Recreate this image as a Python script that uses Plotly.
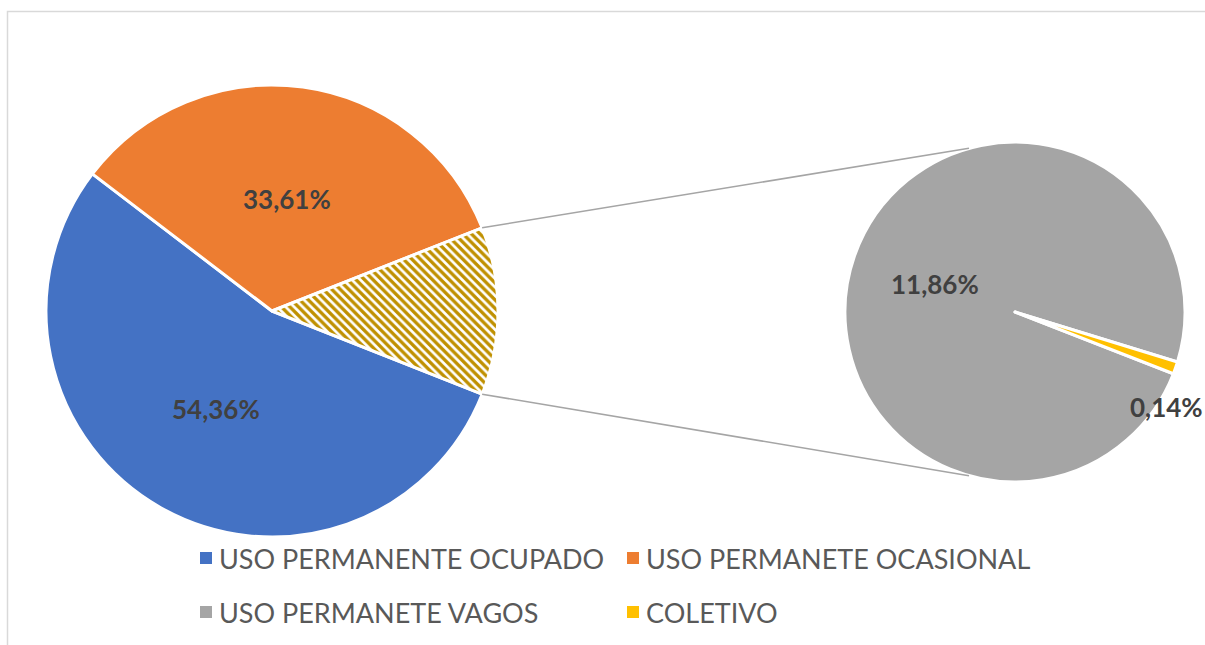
import math
import plotly.graph_objects as go

# ---- data ----
main_labels = ["USO PERMANENTE OCUPADO", "USO PERMANETE OCASIONAL", "OUTROS"]
main_values = [54.36, 33.61, 12.00]
sec_labels = ["USO PERMANETE VAGOS", "COLETIVO"]
sec_values = [11.86, 0.14]
legend_labels = ["USO PERMANENTE OCUPADO", "USO PERMANETE OCASIONAL",
                 "USO PERMANETE VAGOS", "COLETIVO"]
label_texts_main = ["54,36%", "33,61%"]
label_texts_sec = ["11,86%", "0,14%"]

# ---- style ----
W, H = 1205, 645
C_BLUE, C_ORANGE, C_GRAY, C_YELLOW, C_HATCH = "#4472C4", "#ED7D31", "#A5A5A5", "#FFC000", "#BF9000"
legend_colors = [C_BLUE, C_ORANGE, C_GRAY, C_YELLOW]

main_cx, main_cy, main_r = 272, 311, 226
sec_cx, sec_cy, sec_r = 1015, 312, 170


def px(x):
    return x / W


def py(y):
    return 1 - y / H


def dom(cx, cy, r):
    return dict(x=[px(cx - r), px(cx + r)], y=[py(cy + r), py(cy - r)])


tot_main = sum(main_values)
hatch_deg = main_values[2] / tot_main * 360
start_main = -hatch_deg / 2  # math angle where clockwise drawing begins
rot_main = 90 - start_main

tot_sec = sum(sec_values)
yellow_deg = sec_values[1] / tot_sec * 360
yellow_mid = -19.2
start_sec = yellow_mid - yellow_deg / 2
rot_sec = 90 - start_sec

fig = go.Figure()
fig.add_trace(go.Pie(
    labels=main_labels, values=main_values, sort=False, direction="clockwise",
    rotation=rot_main, domain=dom(main_cx, main_cy, main_r), textinfo="none",
    hoverinfo="label+percent", showlegend=False,
    marker=dict(colors=[C_BLUE, C_ORANGE, "white"],
                line=dict(color="white", width=3),
                pattern=dict(shape=["", "", "\\"], fgcolor=C_HATCH, bgcolor="white",
                             size=6, solidity=0.55, fillmode="replace", fgopacity=1)),
))
fig.add_trace(go.Pie(
    labels=sec_labels, values=sec_values, sort=False, direction="clockwise",
    rotation=rot_sec, domain=dom(sec_cx, sec_cy, sec_r), textinfo="none",
    hoverinfo="label+percent", showlegend=False,
    marker=dict(colors=[C_GRAY, C_YELLOW], line=dict(color="white", width=3)),
))

shapes = []
annotations = []

# connector lines
for sgn in (1, -1):
    a0 = math.radians(sgn * hatch_deg / 2)
    a1 = math.radians(sgn * 105.7)
    x0 = main_cx + main_r * math.cos(a0)
    y0 = main_cy - main_r * math.sin(a0)
    x1 = sec_cx + sec_r * math.cos(a1)
    y1 = sec_cy - sec_r * math.sin(a1)
    shapes.append(dict(type="line", xref="paper", yref="paper",
                       x0=px(x0), y0=py(y0), x1=px(x1), y1=py(y1),
                       line=dict(color="#A5A5A5", width=1.5)))

# border
shapes.append(dict(type="path", xref="paper", yref="paper",
                   path=f"M {px(7.5)} {py(H)} L {px(7.5)} {py(11.5)} L {px(W)} {py(11.5)}",
                   line=dict(color="#D9D9D9", width=1.5)))

lab_font = dict(family="Lato", size=26, color="#404040", weight="bold")

# main labels
blue_mid = start_main - (main_values[0] / tot_main * 360) / 2
orange_mid = start_main - (main_values[0] / tot_main * 360) - (main_values[1] / tot_main * 360) / 2
for txt, ang in zip(label_texts_main, [blue_mid, orange_mid]):
    a = math.radians(ang)
    annotations.append(dict(xref="paper", yref="paper", showarrow=False,
                            x=px(main_cx + 0.5 * main_r * math.cos(a)),
                            y=py(main_cy - 0.5 * main_r * math.sin(a)),
                            text=txt, font=lab_font, xanchor="center", yanchor="middle"))

gray_mid = start_sec - (sec_values[0] / tot_sec * 360) / 2
a = math.radians(gray_mid)
annotations.append(dict(xref="paper", yref="paper", showarrow=False,
                        x=px(sec_cx + 0.5 * sec_r * math.cos(a)),
                        y=py(sec_cy - 0.5 * sec_r * math.sin(a)),
                        text=label_texts_sec[0], font=lab_font, xanchor="center", yanchor="middle"))
a = math.radians(-32)
annotations.append(dict(xref="paper", yref="paper", showarrow=False,
                        x=px(sec_cx + 1.05 * sec_r * math.cos(a)),
                        y=py(sec_cy - 1.05 * sec_r * math.sin(a)),
                        text=label_texts_sec[1], font=lab_font, xanchor="center", yanchor="middle"))

# legend (manual, 2 x 2)
col_x = [200, 627]
row_y = [558, 612]
sq = 12
for i, (lab, col) in enumerate(zip(legend_labels, legend_colors)):
    cx = col_x[i % 2]
    cy = row_y[i // 2]
    shapes.append(dict(type="rect", xref="paper", yref="paper",
                       x0=px(cx), x1=px(cx + sq), y0=py(cy + sq / 2), y1=py(cy - sq / 2),
                       fillcolor=col, line=dict(width=0)))
    annotations.append(dict(xref="paper", yref="paper", showarrow=False,
                            x=px(cx + sq + 5), y=py(cy), text=lab,
                            font=dict(family="Lato", size=27, color="#595959"),
                            xanchor="left", yanchor="middle"))

fig.update_layout(width=W, height=H, margin=dict(l=0, r=0, t=0, b=0),
                  paper_bgcolor="white", plot_bgcolor="white",
                  shapes=shapes, annotations=annotations, showlegend=False)

fig.write_html("out.html", config={"displayModeBar": False},
               post_script="document.body.style.margin='0';document.body.style.overflow='hidden';")
